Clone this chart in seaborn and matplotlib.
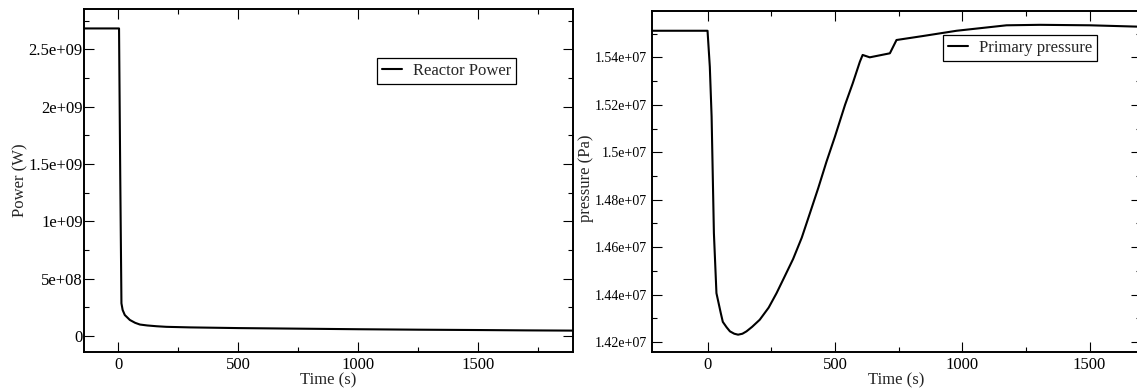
import matplotlib
matplotlib.use("Agg")
import matplotlib.pyplot as plt
import matplotlib.ticker as mticker
import seaborn as sns
import pandas as pd

# ---- data ----
power_time = [-143, 0, 3, 8, 13, 18, 27, 48, 70, 90, 120, 160, 200, 300, 500, 750, 1000, 1250, 1500, 1700, 1896]
power_w = [2.683e9, 2.683e9, 2.683e9, 1.40e9, 0.285e9, 0.227e9, 0.183e9, 0.140e9, 0.115e9, 0.100e9,
           0.092e9, 0.085e9, 0.080e9, 0.075e9, 0.069e9, 0.064e9, 0.059e9, 0.055e9, 0.052e9, 0.049e9, 0.047e9]

press_time = [-220, 0, 9, 16, 25, 35, 52, 60, 75, 88, 105, 120, 137, 153, 175, 205, 240, 271, 300, 336,
              370, 402, 435, 467, 500, 540, 570, 598, 609, 637, 716, 742, 847, 978, 1174, 1305, 1502, 1700]
press_pa = [1.5512e7, 1.5512e7, 1.5360e7, 1.5150e7, 1.4659e7, 1.4406e7, 1.4322e7, 1.4285e7, 1.4262e7,
            1.4245e7, 1.4235e7, 1.4231e7, 1.4235e7, 1.4245e7, 1.4264e7, 1.4294e7, 1.4345e7, 1.4406e7,
            1.4470e7, 1.4550e7, 1.4640e7, 1.4743e7, 1.4850e7, 1.4960e7, 1.5065e7, 1.5200e7, 1.5290e7,
            1.5381e7, 1.5410e7, 1.5400e7, 1.5417e7, 1.5473e7, 1.5490e7, 1.5512e7, 1.5535e7, 1.5537e7,
            1.5535e7, 1.5529e7]

power_label = "Reactor Power"
press_label = "Primary pressure"

sns.set_theme(style="ticks")
plt.rcParams["font.family"] = ["Liberation Serif", "DejaVu Serif"]
plt.rcParams["axes.edgecolor"] = "black"
plt.rcParams["axes.linewidth"] = 1.4

fig = plt.figure(figsize=(11.37, 3.92), dpi=100)
W, H = 1137.0, 392.0


def px_axes(x0, y0, x1, y1):
    return fig.add_axes([x0 / W, 1 - y1 / H, (x1 - x0) / W, (y1 - y0) / H])


ax1 = px_axes(84, 9.3, 573.3, 351.7)
ax2 = px_axes(651.5, 11.3, 1140.5, 352)

df1 = pd.DataFrame({"t": power_time, "v": power_w, "s": power_label})
df2 = pd.DataFrame({"t": press_time, "v": press_pa, "s": press_label})

sns.lineplot(data=df1, x="t", y="v", hue="s", palette=["black"], linewidth=1.5, ax=ax1, sort=False)
sns.lineplot(data=df2, x="t", y="v", hue="s", palette=["black"], linewidth=1.5, ax=ax2, sort=False)

fmt = mticker.FuncFormatter(lambda v, p: f"{v:g}")

for ax in (ax1, ax2):
    ax.set_facecolor("white")
    ax.xaxis.set_major_locator(mticker.MultipleLocator(500))
    ax.xaxis.set_minor_locator(mticker.MultipleLocator(250))
    ax.yaxis.set_major_formatter(fmt)
    ax.xaxis.set_major_formatter(fmt)
    ax.tick_params(which="both", direction="in", top=True, right=True, colors="black", width=0.8)
    ax.tick_params(which="major", length=7)
    ax.tick_params(which="minor", length=3.5)
    ax.tick_params(axis="x", labelsize=12, pad=3.5)
    for s in ax.spines.values():
        s.set_color("black")
        s.set_linewidth(1.4)
    ax.set_xlabel("Time (s)", fontsize=12)
    ax.xaxis.set_label_coords((ax.get_position().x0 + ax.get_position().x1) / 2, 1 - 372.5 / H,
                              transform=fig.transFigure)

ax1.set_xlim(-143, 1896)
ax1.set_ylim(-1.37e8, 2.85e9)
ax1.yaxis.set_major_locator(mticker.MultipleLocator(5e8))
ax1.yaxis.set_minor_locator(mticker.MultipleLocator(2.5e8))
ax1.tick_params(axis="y", labelsize=12, pad=1)
ax1.set_ylabel("Power (W)", fontsize=12)
ax1.yaxis.set_label_coords(28 / W, 1 - 180.5 / H, transform=fig.transFigure)

ax2.set_xlim(-220, 1700)
ax2.set_ylim(1.4158e7, 1.5594e7)
ax2.yaxis.set_major_locator(mticker.MultipleLocator(2e5))
ax2.yaxis.set_minor_locator(mticker.MultipleLocator(1e5))
ax2.tick_params(axis="y", labelsize=10, pad=3)
ax2.set_ylabel("pressure (Pa)", fontsize=12)
ax2.yaxis.set_label_coords(594 / W, 1 - 178 / H, transform=fig.transFigure)

for ax, (lx, ly) in ((ax1, (377.3, 57.7)), (ax2, (943.3, 35))):
    leg = ax.legend(loc="upper left", bbox_to_anchor=(lx / W, 1 - ly / H), bbox_transform=fig.transFigure,
                    borderaxespad=0, fontsize=12, frameon=True, fancybox=False, framealpha=1,
                    handlelength=1.2, handletextpad=0.65, borderpad=0.3, title=None)
    leg.get_frame().set_edgecolor("black")
    leg.get_frame().set_linewidth(0.9)
    for h in leg.get_lines():
        h.set_linewidth(1.5)

fig.savefig("out.png", dpi=100, facecolor="white")
